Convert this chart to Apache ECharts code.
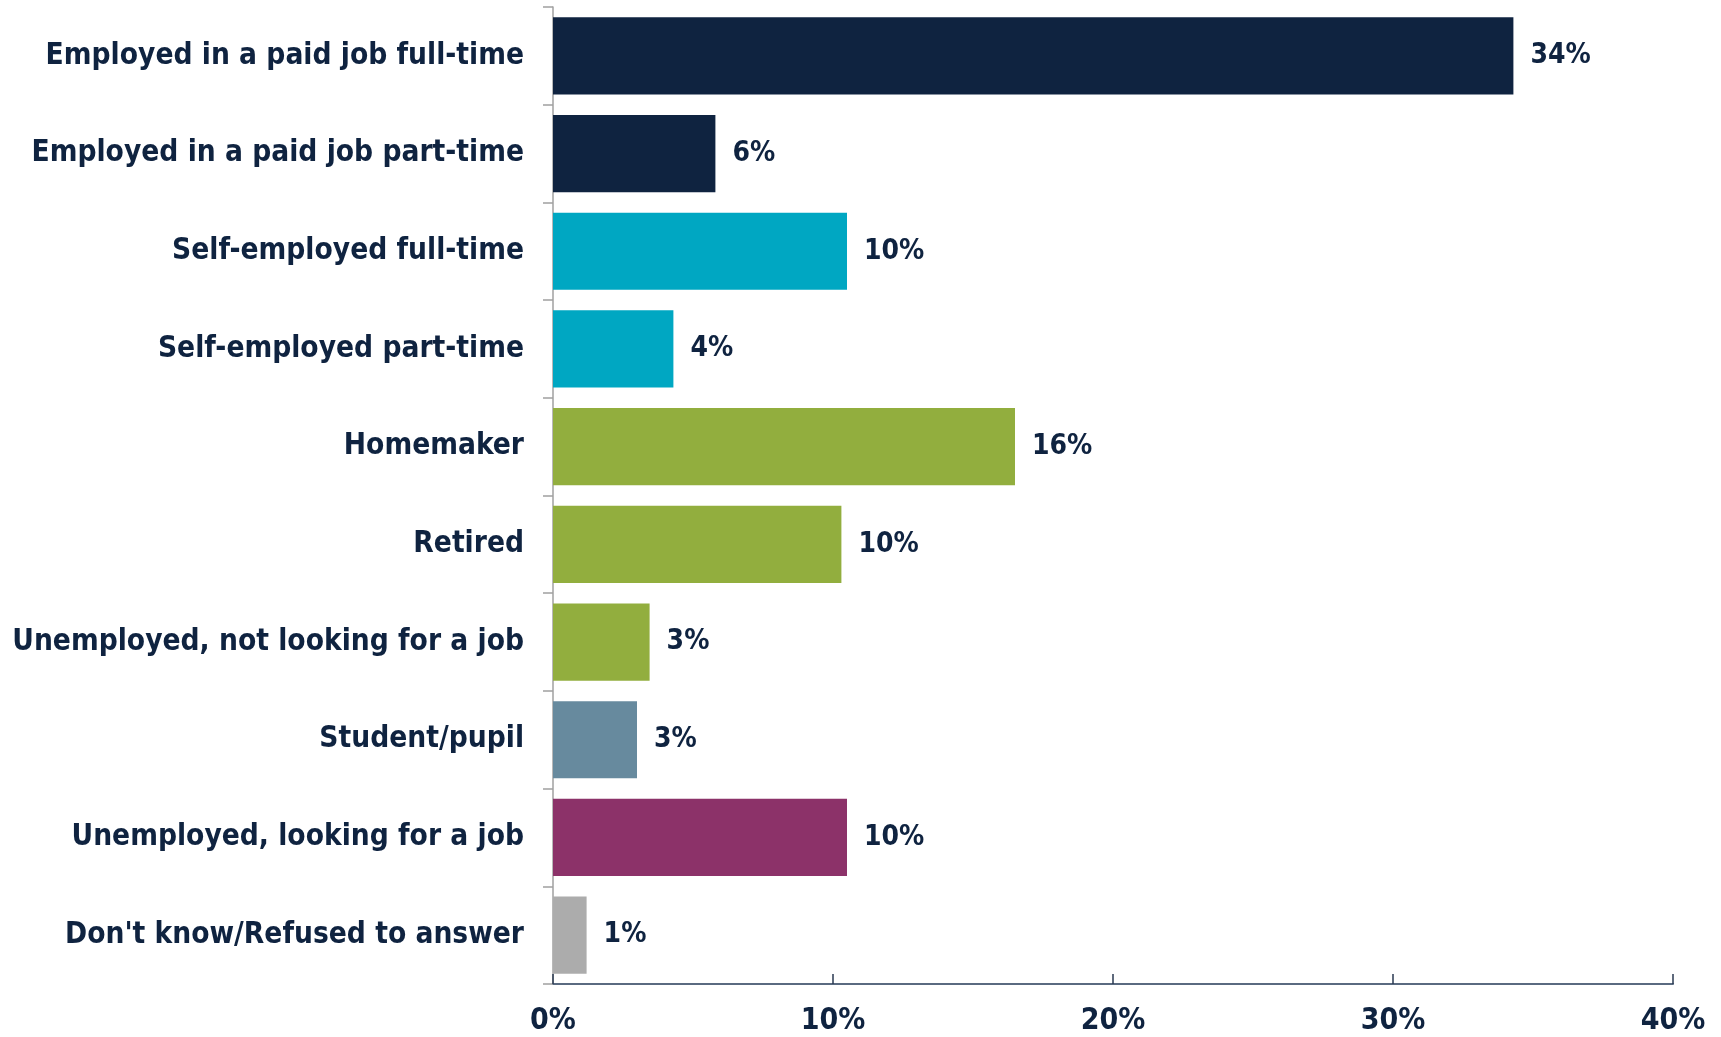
<!DOCTYPE html>
<html>
<head>
<meta charset="utf-8">
<script src="https://cdn.jsdelivr.net/npm/echarts@6/dist/echarts.min.js"></script>
<style>
html,body{margin:0;padding:0;background:#fff;}
#c{width:1721px;height:1037px;}
</style>
</head>
<body>
<div id="c"></div>
<script>
const categories = [
  "Employed in a paid job full-time",
  "Employed in a paid job part-time",
  "Self-employed full-time",
  "Self-employed part-time",
  "Homemaker",
  "Retired",
  "Unemployed, not looking for a job",
  "Student/pupil",
  "Unemployed, looking for a job",
  "Don't know/Refused to answer"
];
const values = [34.3, 5.8, 10.5, 4.3, 16.5, 10.3, 3.45, 3.0, 10.5, 1.2];
const valueLabels = ["34%", "6%", "10%", "4%", "16%", "10%", "3%", "3%", "10%", "1%"];
const barColors = ["#0f2340", "#0f2340", "#00a7c2", "#00a7c2", "#92ae3e", "#92ae3e", "#92ae3e", "#678a9e", "#8c3269", "#acacac"];
const xTicks = [0, 10, 20, 30, 40];

const FONT = '"DejaVu Sans Condensed", "Noto Sans", sans-serif';
const TXT = '#0f2340';

const chart = echarts.init(document.getElementById('c'));
chart.setOption({
  animation: false,
  backgroundColor: '#ffffff',
  grid: { left: 553, top: 7, right: 48, bottom: 53, containLabel: false },
  xAxis: {
    type: 'value',
    min: xTicks[0],
    max: xTicks[xTicks.length - 1],
    interval: 10,
    splitLine: { show: false },
    axisLine: { show: true, lineStyle: { color: '#5a6a80', width: 2 } },
    axisTick: { show: true, inside: true, length: 10, lineStyle: { color: '#2a3a52', width: 1.5 } },
    axisLabel: {
      margin: 22,
      color: TXT,
      fontFamily: FONT,
      fontWeight: 'bold',
      fontSize: 30,
      formatter: v => v + '%'
    }
  },
  yAxis: {
    type: 'category',
    data: categories,
    inverse: true,
    axisLine: { show: true, lineStyle: { color: '#a0a0a0', width: 1.5 } },
    axisTick: { show: true, inside: false, length: 10, alignWithLabel: false, lineStyle: { color: '#a0a0a0', width: 1.5 } },
    axisLabel: {
      margin: 29,
      color: TXT,
      fontFamily: FONT,
      fontWeight: 'bold',
      fontSize: 29.6,
      padding: [3, 0, 0, 0]
    }
  },
  series: [{
    type: 'bar',
    barCategoryGap: '21%',
    data: values.map((v, i) => ({ value: v, itemStyle: { color: barColors[i] } })),
    label: {
      show: true,
      position: 'right',
      distance: 17,
      color: TXT,
      fontFamily: FONT,
      fontWeight: 'bold',
      fontSize: 28,
      padding: [3, 0, 0, 0],
      formatter: p => valueLabels[p.dataIndex]
    }
  }]
});
</script>
</body>
</html>
